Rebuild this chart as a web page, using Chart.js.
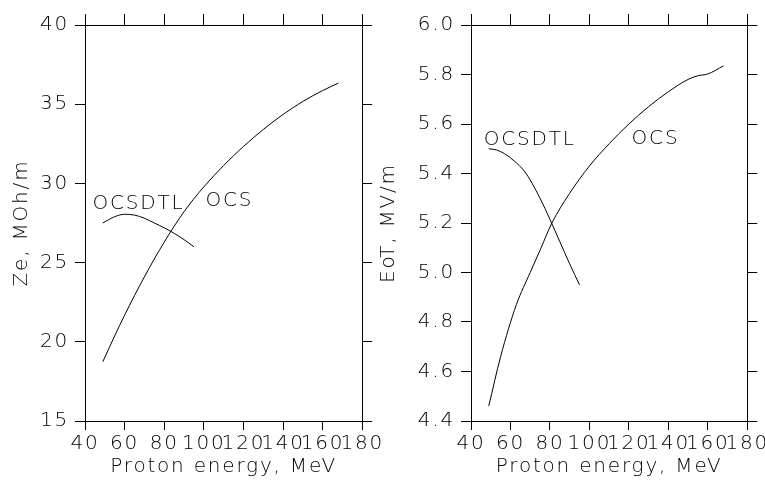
<!DOCTYPE html>
<html><head><meta charset="utf-8">
<script src="https://cdn.jsdelivr.net/npm/chart.js@4/dist/chart.umd.min.js"></script>
<style>
html,body{margin:0;padding:0;background:#fff;width:765px;height:480px;overflow:hidden;position:relative}
#l{position:absolute;left:0;top:0;width:386px;height:480px}
#r{position:absolute;left:380px;top:0;width:391px;height:480px}
</style></head><body>
<div id="l"><canvas id="cl"></canvas></div>
<div id="r"><canvas id="cr"></canvas></div>
<script>
// ---- Data ----
const xTitle = 'Proton energy, MeV';
const leftYTitle = 'Ze, MOh/m';
const rightYTitle = 'EoT, MV/m';

const zeOcsX = [49, 55, 60, 65, 70, 75, 80, 85, 90, 95, 100, 110, 120, 130, 140, 150, 160, 168];
const zeOcsY = [18.74, 20.38, 21.68, 22.92, 24.1, 25.23, 26.29, 27.29, 28.21, 29.03, 29.78, 31.13, 32.33, 33.4, 34.35, 35.17, 35.86, 36.33];
const zeDtlX = [49, 55, 60, 65, 70, 75, 80, 85, 90, 95];
const zeDtlY = [27.5, 27.9, 28.05, 28.0, 27.8, 27.5, 27.2, 26.85, 26.45, 26.0];

const eoOcsX = [49, 55, 63, 70, 75, 81, 90, 100, 110, 120, 130, 140, 150, 155, 160, 168];
const eoOcsY = [4.46, 4.66, 4.87, 5.00, 5.09, 5.20, 5.32, 5.43, 5.52, 5.60, 5.67, 5.73, 5.78, 5.795, 5.802, 5.835];
const eoDtlX = [49, 53, 57, 62, 67, 71, 75, 80, 85, 90, 95];
const eoDtlY = [5.50, 5.495, 5.48, 5.45, 5.41, 5.36, 5.30, 5.215, 5.125, 5.035, 4.95];

const labelTexts = ['OCSDTL', 'OCS'];
const leftLabelX = [67, 112.9];
const leftLabelY = [28.73, 28.9];
const rightLabelX = [69.8, 133.5];
const rightLabelY = [5.537, 5.539];

const xMin = 40, xMax = 180, xStep = 20;
const leftYMin = 15, leftYMax = 40, leftYStep = 5;
const rightYMin = 4.4, rightYMax = 6.0, rightYStep = 0.2;

// ---- Helpers ----
const FONT = {family: "'DejaVu Sans', sans-serif", size: 20, weight: 200};
const SPACING = '1.8px';
const pts = (xs, ys) => xs.map((x, i) => ({x, y: ys[i]}));

const spacingPlugin = {
  id: 'spacing',
  beforeInit(chart) { chart.ctx.letterSpacing = SPACING; },
  beforeUpdate(chart) { chart.ctx.letterSpacing = SPACING; },
  beforeDraw(chart) { chart.ctx.letterSpacing = SPACING; }
};

const textPlugin = {
  id: 'curveLabels',
  afterDatasetsDraw(chart, args, opts) {
    const ctx = chart.ctx;
    ctx.save();
    ctx.letterSpacing = SPACING;
    ctx.font = `${FONT.weight} ${FONT.size}px ${FONT.family}`;
    ctx.fillStyle = '#000';
    ctx.textAlign = 'center';
    ctx.textBaseline = 'middle';
    opts.texts.forEach((t, i) => {
      ctx.fillText(t, chart.scales.x.getPixelForValue(opts.xs[i]), chart.scales.y.getPixelForValue(opts.ys[i]));
    });
    ctx.restore();
  }
};

function makeChart(id, series, yMin, yMax, yStep, yTitle, sizes, labels, decimals, yTitlePad) {
  const grid = {drawOnChartArea: false, drawTicks: true, tickLength: 10, color: '#000', lineWidth: 1};
  const border = {display: true, color: '#000', width: 1};
  const ds = series.map(s => ({
    data: s, borderColor: '#000', borderWidth: 1, pointRadius: 0, fill: false,
    cubicInterpolationMode: 'monotone'
  }));
  return new Chart(document.getElementById(id), {
    type: 'line',
    data: {datasets: ds},
    options: {
      responsive: true, maintainAspectRatio: false, animation: false,
      layout: {padding: 0},
      plugins: {legend: {display: false}, tooltip: {enabled: false}, curveLabels: labels},
      scales: {
        x: {
          type: 'linear', position: 'bottom', min: xMin, max: xMax,
          ticks: {stepSize: xStep, color: '#000', font: FONT, padding: 2, maxRotation: 0, autoSkip: false},
          grid: {...grid, tickLength: 9}, border,
          title: {display: true, text: xTitle, color: '#000', font: {...FONT, lineHeight: 0.8}, padding: {top: 0, bottom: 5}},
          afterFit(s) { s.height = sizes.bottom; }
        },
        x2: {
          type: 'linear', position: 'top', min: xMin, max: xMax,
          ticks: {stepSize: xStep, display: false},
          grid: {...grid, tickLength: 11}, border,
          afterFit(s) { s.height = sizes.top; }
        },
        y: {
          type: 'linear', position: 'left', min: yMin, max: yMax,
          ticks: {stepSize: yStep, color: '#000', font: FONT, padding: 6,
                  callback: v => v.toFixed(decimals)},
          grid, border,
          title: {display: true, text: yTitle, color: '#000', font: {...FONT, lineHeight: 0.8}, padding: {top: yTitlePad, bottom: 0}},
          afterFit(s) { s.width = sizes.left; }
        },
        y2: {
          type: 'linear', position: 'right', min: yMin, max: yMax,
          ticks: {stepSize: yStep, display: false},
          grid, border,
          afterFit(s) { s.width = sizes.right; }
        }
      }
    },
    plugins: [spacingPlugin, textPlugin]
  });
}

makeChart('cl', [pts(zeOcsX, zeOcsY), pts(zeDtlX, zeDtlY)], leftYMin, leftYMax, leftYStep, leftYTitle,
  {left: 85, right: 23, top: 25, bottom: 59},
  {texts: labelTexts, xs: leftLabelX, ys: leftLabelY}, 0, 14);
makeChart('cr', [pts(eoOcsX, eoOcsY), pts(eoDtlX, eoDtlY)], rightYMin, rightYMax, rightYStep, rightYTitle,
  {left: 91, right: 23, top: 25, bottom: 59},
  {texts: labelTexts, xs: rightLabelX, ys: rightLabelY}, 1, 1);
</script>
</body></html>
